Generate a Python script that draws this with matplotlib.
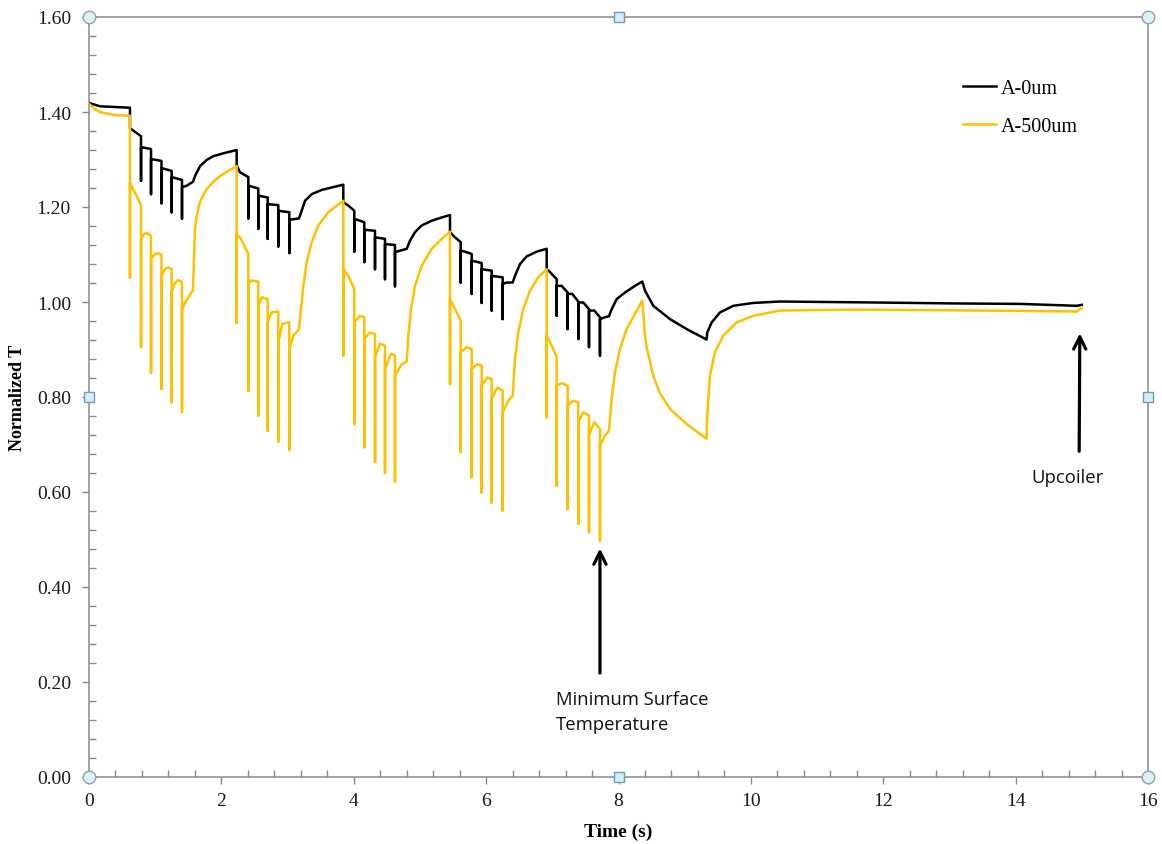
import matplotlib
matplotlib.use("Agg")
import matplotlib.pyplot as plt
from matplotlib.ticker import MultipleLocator, FormatStrFormatter

# ---------------- data ----------------
series_names = ["A-0um", "A-500um"]

black_t = [0, 0.166, 0.619,
           0.619, 0.786,
           0.786, 0.786, 0.937,
           0.937, 0.937, 1.095,
           1.095, 1.095, 1.249,
           1.249, 1.249, 1.405,
           1.405, 1.405, 1.465, 1.571, 1.601, 1.677, 1.778, 1.878, 2.029, 2.231,
           2.231, 2.281, 2.407,
           2.407, 2.407, 2.558,
           2.558, 2.558, 2.700,
           2.700, 2.700, 2.860,
           2.860, 2.860, 3.026,
           3.026, 3.026, 3.173, 3.213, 3.263, 3.365, 3.516, 3.667, 3.842,
           3.842, 3.918, 4.008,
           4.008, 4.008, 4.159,
           4.159, 4.159, 4.321,
           4.321, 4.321, 4.472,
           4.472, 4.472, 4.623,
           4.623, 4.623, 4.800, 4.850, 4.925, 5.026, 5.177, 5.329, 5.454,
           5.454, 5.530, 5.616,
           5.616, 5.616, 5.681, 5.782,
           5.782, 5.782, 5.933,
           5.933, 5.933, 6.084,
           6.084, 6.084, 6.250,
           6.250, 6.250, 6.310, 6.401, 6.436, 6.512, 6.613, 6.764, 6.915,
           6.915, 6.965, 7.066,
           7.066, 7.066, 7.141, 7.232,
           7.232, 7.232, 7.302, 7.392,
           7.392, 7.392, 7.468, 7.554,
           7.554, 7.554, 7.634, 7.720,
           7.720, 7.720, 7.796, 7.856, 7.897, 7.972, 8.098, 8.249, 8.359,
           8.400, 8.526, 8.778, 9.030, 9.330,
           9.341, 9.408, 9.533, 9.734, 10.036, 10.440, 11.849, 13.058, 14.065, 14.922, 14.998]

black_T = [1.419, 1.412, 1.409,
           1.366, 1.349,
           1.255, 1.326, 1.322,
           1.227, 1.301, 1.297,
           1.208, 1.282, 1.276,
           1.189, 1.263, 1.257,
           1.175, 1.242, 1.244, 1.253, 1.265, 1.286, 1.299, 1.307, 1.313, 1.320,
           1.288, 1.273, 1.263,
           1.176, 1.245, 1.239,
           1.154, 1.224, 1.220,
           1.133, 1.206, 1.204,
           1.117, 1.192, 1.189,
           1.103, 1.173, 1.176, 1.192, 1.213, 1.227, 1.236, 1.241, 1.247,
           1.210, 1.203, 1.192,
           1.106, 1.175, 1.168,
           1.084, 1.152, 1.150,
           1.069, 1.136, 1.133,
           1.048, 1.122, 1.120,
           1.033, 1.105, 1.112, 1.129, 1.147, 1.161, 1.171, 1.178, 1.183,
           1.147, 1.136, 1.126,
           1.041, 1.108, 1.106, 1.101,
           1.017, 1.087, 1.082,
           0.998, 1.069, 1.066,
           0.982, 1.055, 1.052,
           0.964, 1.038, 1.041, 1.041, 1.055, 1.080, 1.096, 1.106, 1.112,
           1.069, 1.063, 1.048,
           0.971, 1.034, 1.034, 1.020,
           0.943, 1.017, 1.017, 1.001,
           0.922, 0.999, 0.999, 0.985,
           0.905, 0.982, 0.982, 0.968,
           0.887, 0.964, 0.968, 0.970, 0.985, 1.006, 1.020, 1.034, 1.043,
           1.024, 0.992, 0.964, 0.943, 0.921,
           0.936, 0.957, 0.978, 0.992, 0.998, 1.001, 0.999, 0.997, 0.996, 0.992, 0.994]

yellow_t = [0, 0.091, 0.166, 0.363, 0.619,
            0.619, 0.619, 0.786,
            0.786, 0.786, 0.831, 0.876, 0.937,
            0.937, 0.937, 0.997, 1.042, 1.095,
            1.095, 1.095, 1.148, 1.194, 1.249,
            1.249, 1.249, 1.299, 1.345, 1.405,
            1.405, 1.405, 1.465, 1.571, 1.601, 1.627, 1.677, 1.778, 1.878, 1.979, 2.104, 2.231,
            2.231, 2.231, 2.296, 2.407,
            2.407, 2.407, 2.448, 2.558,
            2.558, 2.558, 2.609, 2.700,
            2.700, 2.700, 2.760, 2.860,
            2.860, 2.860, 2.921, 3.026,
            3.026, 3.026, 3.087, 3.173, 3.203, 3.238, 3.289, 3.365, 3.464, 3.615, 3.842,
            3.842, 3.842, 3.918, 4.008,
            4.008, 4.008, 4.094, 4.159,
            4.159, 4.159, 4.245, 4.321,
            4.321, 4.321, 4.396, 4.472,
            4.472, 4.472, 4.563, 4.623,
            4.623, 4.623, 4.724, 4.800, 4.824, 4.865, 4.925, 5.026, 5.177, 5.329, 5.454,
            5.454, 5.454, 5.530, 5.616,
            5.616, 5.616, 5.706, 5.782,
            5.782, 5.782, 5.867, 5.933,
            5.933, 5.933, 6.018, 6.084,
            6.084, 6.084, 6.169, 6.250,
            6.250, 6.250, 6.335, 6.401, 6.436, 6.486, 6.561, 6.663, 6.788, 6.915,
            6.915, 6.915, 6.990, 7.066,
            7.066, 7.066, 7.141, 7.232,
            7.232, 7.232, 7.317, 7.392,
            7.392, 7.392, 7.468, 7.554,
            7.554, 7.554, 7.634, 7.720,
            7.720, 7.720, 7.796, 7.856, 7.897, 7.947, 8.022, 8.123, 8.249, 8.359,
            8.400, 8.425, 8.525, 8.626, 8.778, 9.030, 9.330,
            9.341, 9.382, 9.457, 9.583, 9.785, 10.036, 10.440, 11.547, 13.461, 14.922, 14.998]

yellow_T = [1.417, 1.406, 1.400, 1.394, 1.392,
            1.051, 1.251, 1.204,
            0.905, 1.133, 1.143, 1.145, 1.139,
            0.851, 1.091, 1.101, 1.103, 1.099,
            0.817, 1.055, 1.069, 1.073, 1.069,
            0.789, 1.021, 1.040, 1.046, 1.042,
            0.768, 0.985, 1.002, 1.025, 1.154, 1.181, 1.211, 1.238, 1.253, 1.265, 1.276, 1.286,
            0.956, 1.143, 1.133, 1.101,
            0.813, 1.038, 1.045, 1.043,
            0.761, 0.992, 1.010, 1.006,
            0.729, 0.958, 0.978, 0.980,
            0.706, 0.915, 0.954, 0.957,
            0.689, 0.901, 0.929, 0.943, 0.985, 1.034, 1.084, 1.126, 1.161, 1.189, 1.213,
            0.887, 1.069, 1.055, 1.027,
            0.743, 0.957, 0.971, 0.968,
            0.694, 0.922, 0.936, 0.933,
            0.663, 0.884, 0.912, 0.908,
            0.640, 0.859, 0.891, 0.887,
            0.622, 0.845, 0.869, 0.874, 0.929, 0.985, 1.034, 1.076, 1.112, 1.133, 1.148,
            0.827, 1.006, 0.985, 0.961,
            0.684, 0.894, 0.905, 0.901,
            0.631, 0.859, 0.869, 0.866,
            0.599, 0.824, 0.841, 0.838,
            0.578, 0.796, 0.820, 0.813,
            0.561, 0.768, 0.792, 0.803, 0.880, 0.936, 0.985, 1.024, 1.052, 1.069,
            0.757, 0.929, 0.908, 0.884,
            0.613, 0.824, 0.829, 0.824,
            0.564, 0.782, 0.792, 0.789,
            0.533, 0.747, 0.768, 0.761,
            0.515, 0.719, 0.747, 0.733,
            0.497, 0.697, 0.719, 0.729, 0.796, 0.852, 0.901, 0.943, 0.975, 1.003,
            0.930, 0.905, 0.845, 0.808, 0.775, 0.743, 0.712,
            0.761, 0.845, 0.894, 0.929, 0.957, 0.971, 0.982, 0.984, 0.982, 0.980, 0.987]

x_ticks = [0, 2, 4, 6, 8, 10, 12, 14, 16]
y_ticks = [0.0, 0.2, 0.4, 0.6, 0.8, 1.0, 1.2, 1.4, 1.6]

# annotations: (label, arrow head, arrow tail, text position)
min_label = "Minimum Surface\nTemperature"
min_head = (7.72, 0.487)
min_tail = (7.72, 0.213)
min_text = (7.05, 0.184)
up_label = "Upcoiler"
up_head = (14.97, 0.94)
up_tail = (14.96, 0.68)
up_text = (14.78, 0.632)

assert len(black_t) == len(black_T)
assert len(yellow_t) == len(yellow_T)

# ---------------- plotting ----------------
serif = ["Liberation Serif", "DejaVu Serif"]
SPINE = "#8a8a8a"

fig = plt.figure(figsize=(11.62, 8.45), dpi=100)
ax = fig.add_axes([89 / 1162, 67 / 845, 1059 / 1162, 760 / 845])

ax.plot(black_t, black_T, color="black", lw=1.8, label=series_names[0], zorder=3)
ax.plot(yellow_t, yellow_T, color="#FFC000", lw=1.8, label=series_names[1], zorder=3)

ax.set_xlim(0, 16)
ax.set_ylim(0, 1.6)
ax.set_xticks(x_ticks)
ax.set_yticks(y_ticks)
ax.xaxis.set_minor_locator(MultipleLocator(0.4))
ax.yaxis.set_minor_locator(MultipleLocator(0.04))
ax.yaxis.set_major_formatter(FormatStrFormatter("%.2f"))

for s in ax.spines.values():
    s.set_color(SPINE)
    s.set_linewidth(1.1)

ax.tick_params(which="major", direction="out", length=5, width=1.0, color=SPINE,
               labelsize=14, pad=6)
ax.tick_params(axis="y", which="major", pad=8)
ax.tick_params(which="minor", direction="in", length=5, width=1.0, color=SPINE)
for lab in ax.get_xticklabels() + ax.get_yticklabels():
    lab.set_fontfamily(serif)
    lab.set_color("#1a1a1a")

ax.set_xlabel("Time (s)", fontsize=14, fontweight="bold", family=serif, labelpad=10)
ax.set_ylabel("Normalized T", fontsize=13, fontweight="bold", family=serif, labelpad=8)

leg = ax.legend(loc="upper left", bbox_to_anchor=(0.8155, 0.932), frameon=False,
                prop={"family": serif, "size": 14.5}, handlelength=1.65,
                handletextpad=0.25, labelspacing=0.95, borderpad=0)

# annotations
ann_font = ["Open Sans", "DejaVu Sans"]
ax.annotate("", xy=min_head, xytext=min_tail,
            arrowprops=dict(arrowstyle="->", lw=2.3, color="black", mutation_scale=22))
ax.text(min_text[0], min_text[1], min_label, fontsize=13.3, family=ann_font,
        va="top", ha="left", linespacing=1.5, color="#111111")
ax.annotate("", xy=up_head, xytext=up_tail,
            arrowprops=dict(arrowstyle="->", lw=2.3, color="black", mutation_scale=22))
ax.text(up_text[0], up_text[1], up_label, fontsize=13.3, family=ann_font,
        va="center", ha="center", color="#111111")

# selection handles on the chart frame
for (hx, hy) in [(0, 0), (0, 1.6), (16, 0), (16, 1.6)]:
    ax.plot(hx, hy, marker="o", ms=9, mfc="#dcf0f6", mec="#8aa3ad", mew=1.0,
            clip_on=False, zorder=6)
for (hx, hy) in [(8, 0), (8, 1.6), (0, 0.8), (16, 0.8)]:
    ax.plot(hx, hy, marker="s", ms=7, mfc="#d4eef7", mec="#6f9fb3", mew=1.0,
            clip_on=False, zorder=6)

fig.savefig("out.png", dpi=100)
